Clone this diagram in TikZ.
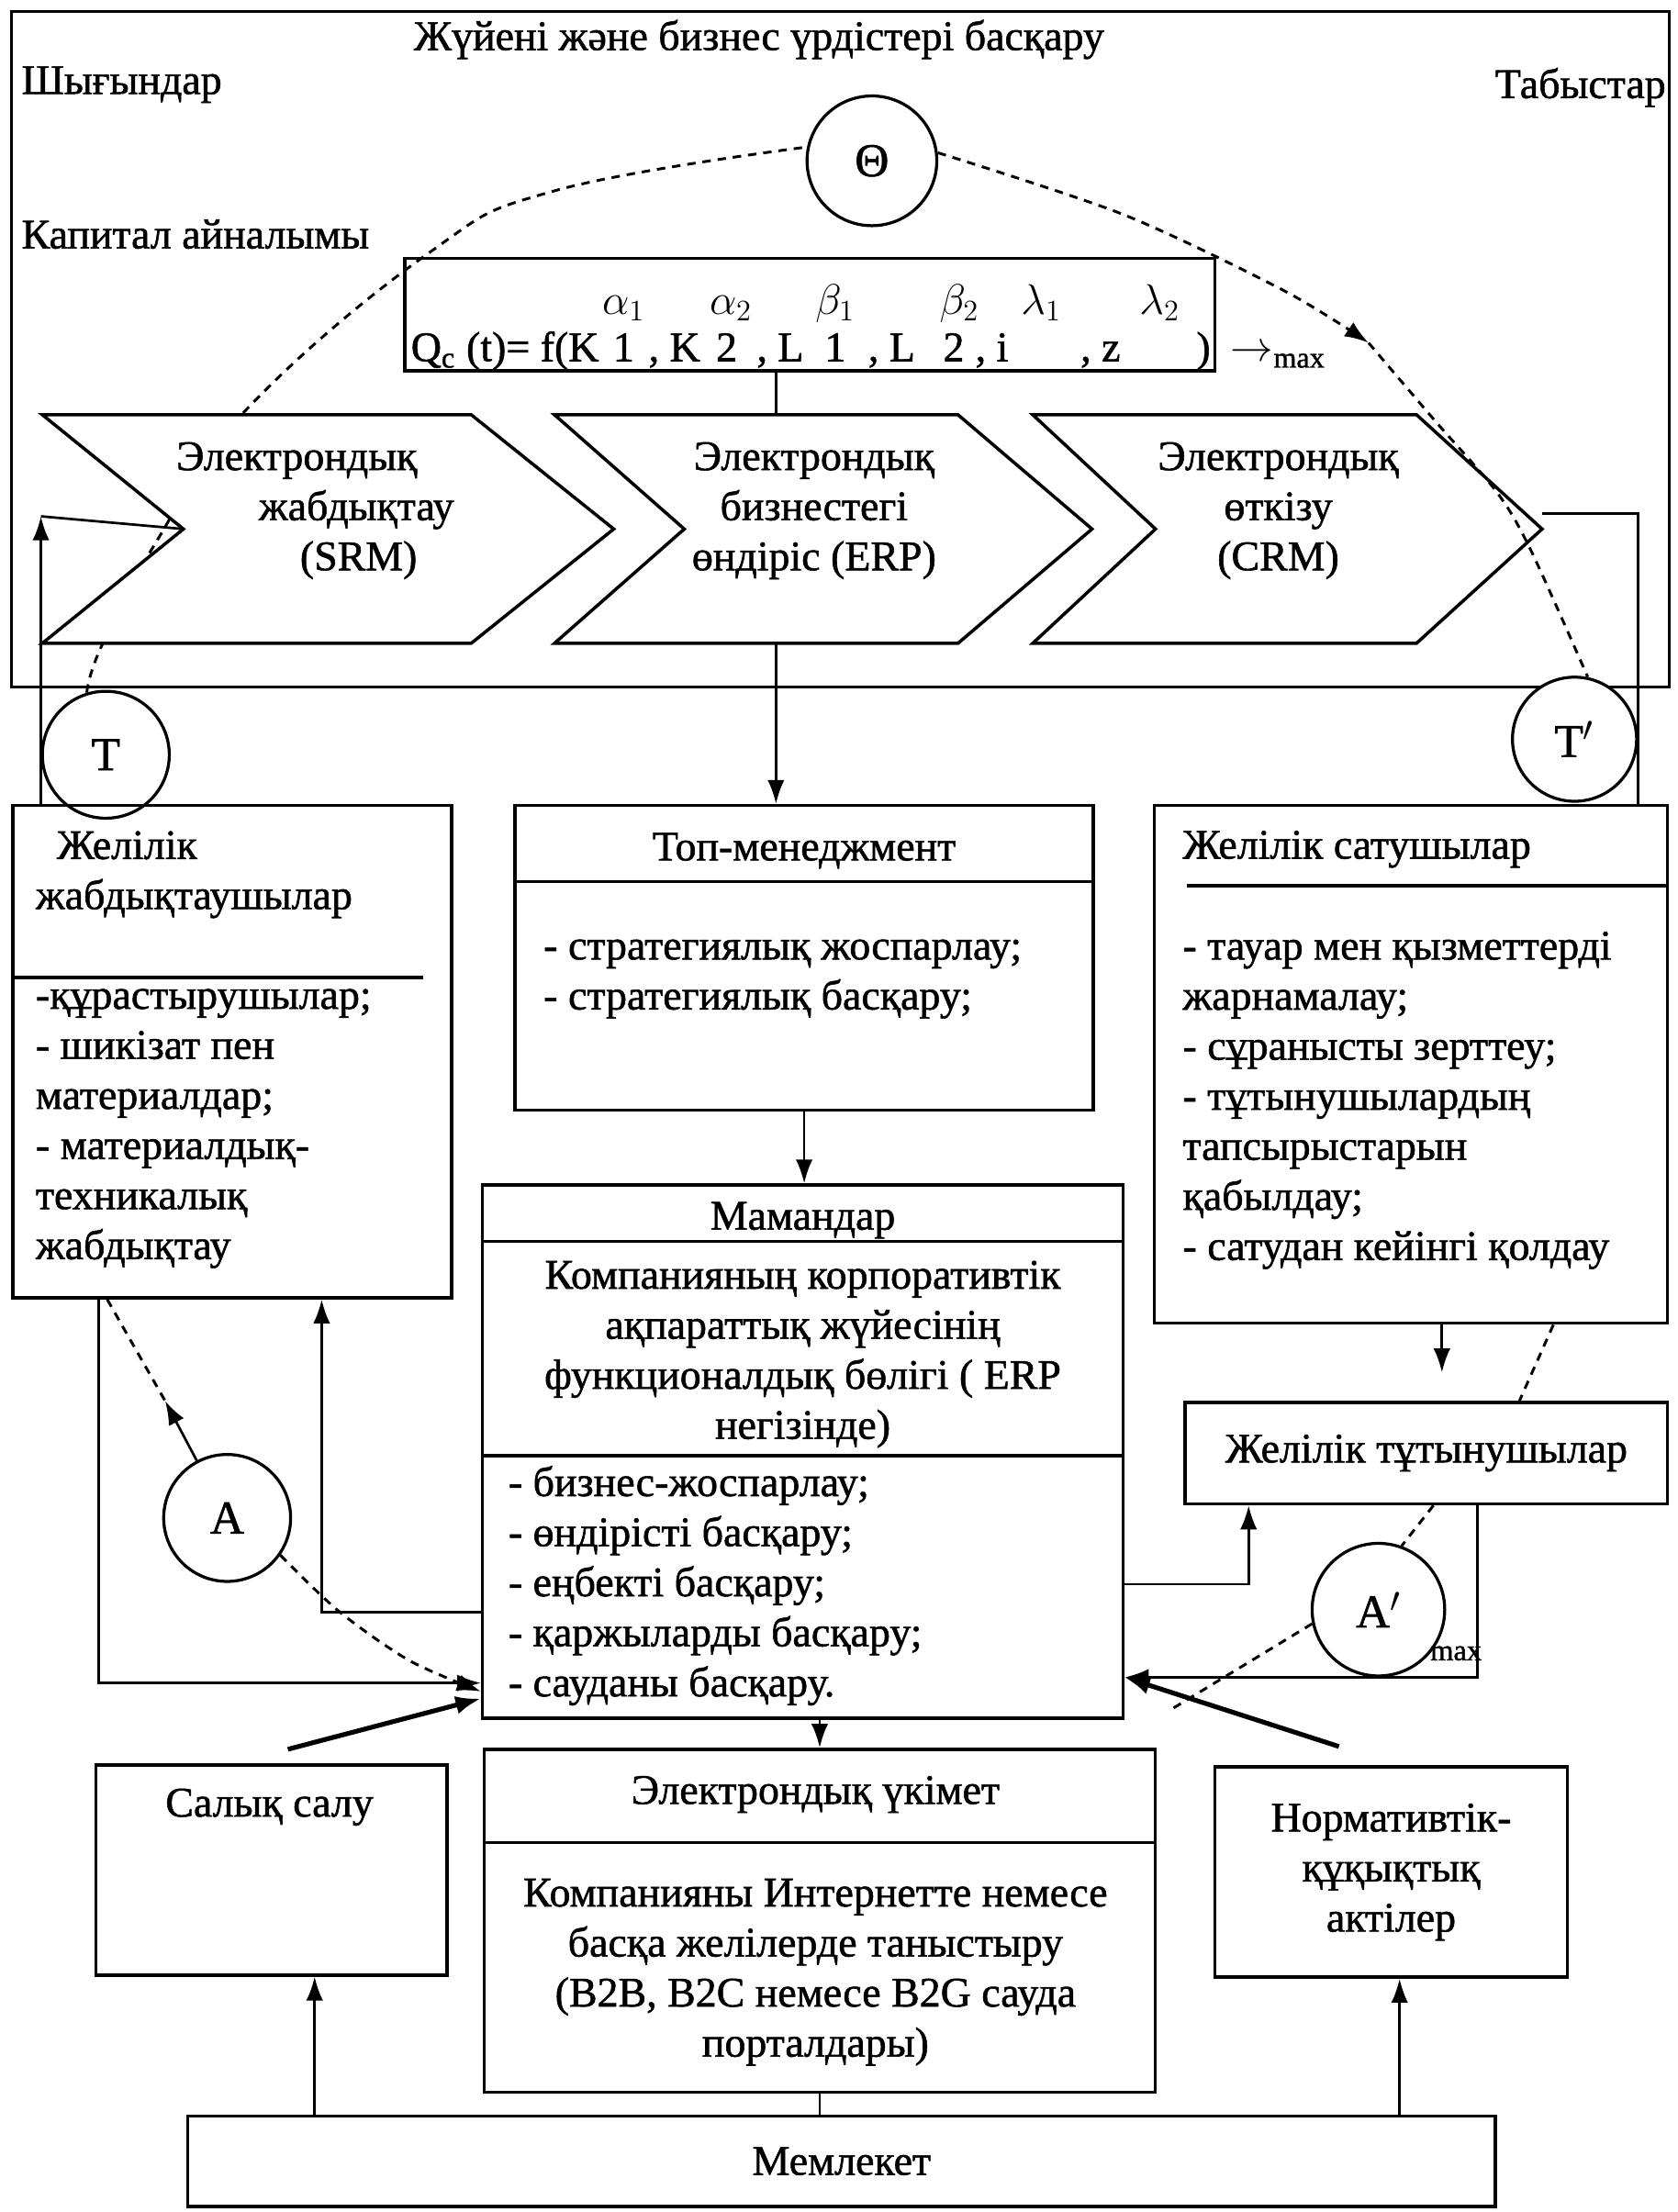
\documentclass[tikz,border=0pt]{standalone}
\usepackage{fontspec}
\setmainfont{Liberation Serif}[RawFeature={embolden=1.2}]
\usetikzlibrary{arrows.meta}
\newcommand{\bodysize}{\fontsize{17pt}{20.2pt}\selectfont}
\newcommand{\circsize}{\fontsize{19pt}{22pt}\selectfont}
\newcommand{\smallsize}{\fontsize{12pt}{14pt}\selectfont}

\begin{document}
\begin{tikzpicture}[x=0.02cm, y=-0.02cm, font=\bodysize,
    box/.style={draw, line width=1.3pt, inner sep=0pt},
    circ/.style={draw, circle, line width=1.2pt, fill=white, inner sep=0pt, font=\circsize},
    arr/.style={line width=1pt, -{Latex[length=3.4mm,width=2.4mm]}},
    heavy/.style={line width=1.9pt, -{Latex[length=3.6mm,width=2.6mm]}},
    cyc/.style={line width=1.1pt, dash pattern=on 3.4pt off 2.8pt},
    lst/.style={align=left, anchor=west, inner sep=0pt},
    ctr/.style={align=center, inner sep=0pt}]
    \useasboundingbox (0,0) rectangle (1189,1568);

    % top frame
    \draw[line width=1.3pt] (8,8) rectangle (1183,487);
    \node (title) at (538,28) {Жүйені және бизнес үрдістері басқару};
    \node[anchor=west, inner sep=0pt] (costs) at (15,60) {Шығындар};
    \node[anchor=east, inner sep=0pt] (income) at (1181,62) {Табыстар};
    \node[anchor=west, inner sep=0pt] (capital) at (15,166) {Капитал айналымы};

    % circles of the cycle
    \node[circ, minimum size=1.84cm] (theta) at (618,114) {Θ};
    \node[circ, minimum size=1.8cm] (tL) at (75,535) {T};
    \node[circ, minimum size=1.76cm] (tR) at (1116,524) {T$'$};
    \node[circ, minimum size=1.8cm] (aL) at (161,1076) {A};
    \node[circ, minimum size=1.88cm] (aR) at (977,1141) {A$'$};
    \node[font=\smallsize, inner sep=0pt] (amax) at (1032,1172) {max};

    \draw[cyc] plot[smooth, tension=0.7] coordinates {(tL.107) (72,458) (112,382) (174,291) (303,180) (394,135) (theta.168)};

    % formula
    \node[box, minimum width=11.48cm, minimum height=1.6cm] (fbox) at (574,223) {};
    \node[anchor=base west, inner sep=0pt] (fq) at (291,256) {Q\textsubscript{c} (t)= f(K};
    \foreach \x/\lbl [count=\i] in {442/1, 478/{, K}, 515/2, 553/{, L}, 592/1, 632/{, L}, 676/2, 703/{, i}, 780/{, z}, 853/)}
        \node[anchor=base, inner sep=0pt] (fm\i) at (\x,256) {\lbl};
    \foreach \x/\lbl [count=\i] in {442/\alpha_1, 518/\alpha_2, 592/\beta_1, 680/\beta_2, 738/\lambda_1, 822/\lambda_2}
        \node[anchor=base, inner sep=0pt] (fe\i) at (\x,223) {$\lbl$};
    \node[anchor=base west, inner sep=0pt] (fmax) at (872,256) {$\rightarrow$\textsubscript{max}};

    % chevrons
    \draw[line width=1.3pt, fill=white] (30,294) -- (334,294) -- (435,375) -- (334,456) -- (30,456) -- (130,375) -- cycle;
    \draw[line width=1.3pt, fill=white] (393,294) -- (679,294) -- (774,375) -- (679,456) -- (393,456) -- (485,375) -- cycle;
    \draw[line width=1.3pt, fill=white] (732,294) -- (1004,294) -- (1093,375) -- (1004,456) -- (732,456) -- (819,375) -- cycle;
    \node[align=right, anchor=east, inner sep=0pt] (srm) at (322,362) {Электрондық\hspace*{0.52cm}\\жабдықтау\\(SRM)\hspace*{0.52cm}};
    \node[ctr] (erp) at (577,362) {Электрондық\\бизнестегі\\өндіріс (ERP)};
    \node[ctr] (crm) at (906,362) {Электрондық\\өткізу\\(CRM)};
    \coordinate (c1n) at (130,375);
    \coordinate (c2t) at (550,294);
    \coordinate (c2b) at (550,456);
    \coordinate (c3t) at (1093,364);
    \coordinate (lup) at (29,366);
    \coordinate (rdn) at (1161,364);

    \draw[cyc, -{Latex[length=3.4mm,width=2.4mm]}] plot[smooth] coordinates {(theta.7) (796,152) (910,206) (970,243)};
    \draw[cyc] plot[smooth] coordinates {(970,243) (1016,297) (1061,349) (1085,390) (tR.78)};

    % boxes
    \node[box, minimum width=6.22cm, minimum height=6.98cm] (supL) at (164.5,745.5) {};
    \node[box, minimum width=8.2cm, minimum height=4.32cm] (topm) at (570,679) {};
    \node[box, minimum width=7.28cm, minimum height=7.34cm] (sell) at (1000,754.5) {};
    \node[box, minimum width=9.08cm, minimum height=7.56cm] (spec) at (569,1029) {};
    \node[box, minimum width=6.84cm, minimum height=1.44cm] (cons) at (1011,1030) {Желілік тұтынушылар};
    \node[box, minimum width=4.98cm, minimum height=2.98cm] (tax) at (192.5,1325.5) {};
    \node[box, minimum width=9.52cm, minimum height=4.86cm] (egov) at (581,1361.5) {};
    \node[box, minimum width=5cm, minimum height=2.98cm, align=center] (norm) at (986,1327) {Нормативтік-\\құқықтық\\актілер};
    \node[box, minimum width=18.54cm, minimum height=1.28cm] (state) at (596.5,1532) {Мемлекет};

    \draw[line width=1.3pt] (9,693) -- (300,693);
    \draw[line width=1.3pt] (365,625) -- (775,625);
    \draw[line width=1.3pt] (841,628) -- (1182,628);
    \draw[line width=1.3pt] (342,880) -- (796,880);
    \draw[line width=1.3pt] (342,1032) -- (796,1032);
    \draw[line width=1.3pt] (343,1306) -- (819,1306);

    \node[lst] (supLh) at (25,620) {\hspace*{0.3cm}Желілік\\жабдықтаушылар};
    \node[lst] (supLl) at (25,800) {-құрастырушылар;\\- шикізат пен\\материалдар;\\- материалдық-\\техникалық\\жабдықтау};
    \node (topmh) at (570,603) {Топ-менеджмент};
    \node[lst] (topml) at (385,694) {- стратегиялық жоспарлау;\\- стратегиялық басқару;};
    \node[anchor=west, inner sep=0pt] (sellh) at (838,602) {Желілік сатушылар};
    \node[lst] (selll) at (838,780) {- тауар мен қызметтерді\\жарнамалау;\\- сұранысты зерттеу;\\- тұтынушылардың\\тапсырыстарын\\қабылдау;\\- сатудан кейінгі қолдау};
    \node (spech) at (569,865) {Мамандар};
    \node[ctr] (specb) at (569,960) {Компанияның корпоративтік\\ақпараттық жүйесінің\\функционалдық бөлігі ( ERP\\негізінде)};
    \node[lst] (specl) at (360,1124) {- бизнес-жоспарлау;\\- өндірісті басқару;\\- еңбекті басқару;\\- қаржыларды басқару;\\- сауданы басқару.};
    \node (taxh) at (191,1281) {Салық салу};
    \node (egovh) at (578,1272) {Электрондық үкімет};
    \node[ctr] (egovb) at (578,1398) {Компанияны Интернетте немесе\\басқа желілерде таныстыру\\(B2B, B2C немесе B2G сауда\\порталдары)};

    % connectors
    \draw[line width=1pt] (fbox.south -| c2t) -- (c2t);
    \draw[arr] (c2b) -- (c2b |- topm.north);
    \draw[arr] (lup |- supL.north) -- (lup);
    \draw[line width=1pt] (lup) -- (c1n);
    \draw[line width=1pt] (c3t) -- (rdn) -- (rdn |- sell.north);
    \draw[arr] (topm.south) -- (topm.south |- spec.north);
    \draw[arr] (egov.north |- spec.south) -- (egov.north);

    \coordinate (xtax) at (223,0);
    \coordinate (xnorm) at (992,0);
    \draw[arr] (xtax |- state.north) -- (xtax |- tax.south);
    \draw[line width=1pt] (egov.south |- state.north) -- (egov.south);
    \draw[arr] (xnorm |- state.north) -- (xnorm |- norm.south);

    \coordinate (xsc) at (1022,0);
    \draw[arr, shorten >=0.4cm] (xsc |- sell.south) -- (xsc |- cons.north);
    \coordinate (kcons) at (885,1123);
    \draw[arr] (spec.east |- kcons) -- (kcons) -- (kcons |- cons.south);
    \coordinate (kback) at (1047,1189);
    \draw[arr] (kback |- cons.south) -- (kback) -- (kback -| spec.east);
    \coordinate (kin) at (70,1193);
    \draw[arr] (kin |- supL.south) -- (kin) -- (kin -| spec.west);
    \coordinate (kout) at (228,1143);
    \draw[arr] (spec.west |- kout) -- (kout) -- (kout |- supL.south);

    \coordinate (dl) at (204,1240);
    \coordinate (dA) at (0,1204);
    \coordinate (dr) at (949,1238);
    \draw[heavy] (dl) -- (spec.west |- dA);
    \draw[heavy] (dr) -- (kback -| spec.east);

    % lower part of the cycle
    \coordinate (xa) at (76,0);
    \coordinate (aLtip) at (117,993);
    \draw[cyc] (xa |- supL.south) -- (aLtip);
    \draw[arr] (aL) -- (aLtip);
    \draw[cyc, -{Latex[length=3.4mm,width=2.4mm]}] plot[smooth] coordinates {(aL.-35) (240,1142) (290,1177) (spec.west |- 0,1199)};
    \coordinate (xg1) at (1101,0);
    \coordinate (xg2) at (1077,0);
    \draw[cyc] (xg1 |- sell.south) -- (xg2 |- cons.north);
    \coordinate (xh) at (1016,0);
    \draw[cyc] (xh |- cons.south) -- (aR.70);
    \coordinate (aRend) at (828,1213);
    \draw[cyc] (aR.192) -- (aRend);
\end{tikzpicture}
\end{document}
